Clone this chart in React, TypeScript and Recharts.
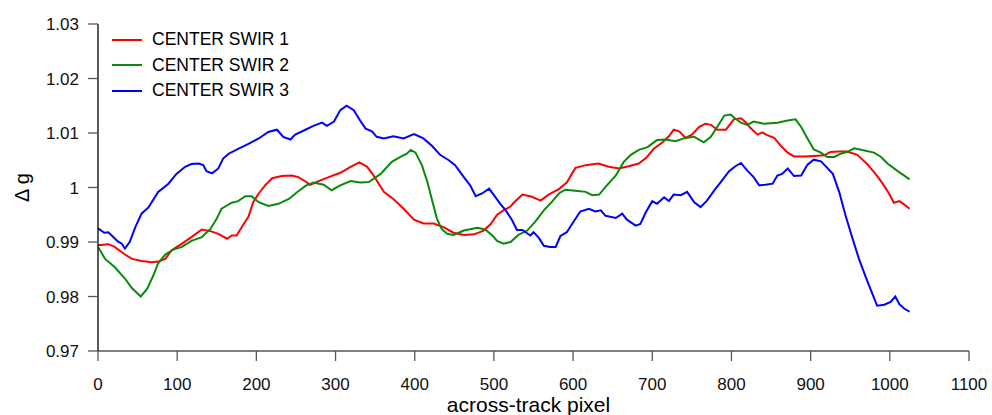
import React from "react";
import { LineChart, Line, XAxis, YAxis, Label } from "recharts";

// ---------- data ----------
const redX = [0, 13, 21, 34, 43, 55, 68, 76, 85, 93, 106, 118, 131, 142, 152, 163, 169, 175, 184, 190, 196, 203, 211, 220, 232, 245, 253, 262, 268, 281, 293, 306, 319, 330, 340, 348, 361, 373, 386, 399, 411, 424, 437, 449, 462, 475, 487, 496, 504, 512, 521, 525, 536, 548, 559, 569, 582, 592, 603, 616, 632, 645, 658, 670, 683, 692, 702, 713, 721, 727, 734, 742, 750, 759, 767, 774, 782, 793, 803, 812, 818, 824, 833, 839, 845, 854, 862, 871, 879, 892, 904, 917, 925, 936, 946, 959, 972, 982, 991, 999, 1005, 1012, 1018, 1025];
const redY = [0.9894, 0.9896, 0.9891, 0.9877, 0.9869, 0.9865, 0.9863, 0.9864, 0.9869, 0.9885, 0.9897, 0.9909, 0.9923, 0.992, 0.9915, 0.9906, 0.9912, 0.9912, 0.9933, 0.9946, 0.9973, 0.9989, 1.0004, 1.0017, 1.0021, 1.0022, 1.0019, 1.0011, 1.0005, 1.0013, 1.002, 1.0027, 1.0038, 1.0046, 1.0038, 1.0022, 0.9992, 0.9979, 0.9961, 0.9941, 0.9934, 0.9934, 0.9927, 0.9917, 0.9913, 0.9914, 0.9921, 0.9933, 0.995, 0.9958, 0.9965, 0.9972, 0.9987, 0.9983, 0.9976, 0.9987, 0.9997, 1.0009, 1.0036, 1.0041, 1.0044, 1.0038, 1.0035, 1.0039, 1.0044, 1.0054, 1.0071, 1.0083, 1.0094, 1.0106, 1.0103, 1.0091, 1.0097, 1.0111, 1.0117, 1.0115, 1.0106, 1.0106, 1.0125, 1.0127, 1.012, 1.0109, 1.0097, 1.0101, 1.0096, 1.0091, 1.0077, 1.0064, 1.0057, 1.0057, 1.0058, 1.0059, 1.0065, 1.0066, 1.0066, 1.006, 1.0042, 1.0025, 1.0007, 0.9989, 0.9972, 0.9975, 0.9969, 0.9961];

const greenX = [0, 9, 21, 34, 43, 54, 62, 70, 76, 85, 95, 106, 118, 131, 142, 150, 156, 169, 177, 186, 194, 203, 215, 228, 241, 253, 262, 272, 285, 295, 306, 319, 331, 342, 357, 371, 382, 390, 395, 401, 409, 416, 422, 428, 434, 441, 449, 462, 479, 489, 498, 504, 512, 521, 531, 542, 552, 563, 574, 582, 590, 603, 616, 624, 633, 641, 654, 664, 673, 683, 694, 706, 717, 729, 742, 753, 765, 774, 782, 791, 799, 805, 812, 820, 828, 841, 858, 871, 881, 888, 896, 904, 913, 921, 930, 938, 947, 955, 968, 980, 989, 997, 1010, 1025];
const greenY = [0.9891, 0.9869, 0.9854, 0.9833, 0.9815, 0.98, 0.9814, 0.9839, 0.9861, 0.9877, 0.9886, 0.9891, 0.9902, 0.9909, 0.9924, 0.9943, 0.9961, 0.9972, 0.9975, 0.9984, 0.9984, 0.9973, 0.9966, 0.997, 0.9979, 0.9993, 1.0003, 1.0009, 1.0005, 0.9995, 1.0004, 1.0012, 1.0009, 1.001, 1.0025, 1.0047, 1.0056, 1.0062, 1.0069, 1.0064, 1.0041, 1.001, 0.9976, 0.9943, 0.9924, 0.9915, 0.9913, 0.9921, 0.9926, 0.9923, 0.9912, 0.9902, 0.9897, 0.99, 0.9913, 0.9921, 0.9937, 0.9958, 0.9975, 0.9989, 0.9996, 0.9994, 0.9992, 0.9986, 0.9987, 1.0001, 1.0022, 1.0047, 1.006, 1.0069, 1.0074, 1.0087, 1.0088, 1.0085, 1.0091, 1.0093, 1.0083, 1.0093, 1.0111, 1.0132, 1.0134, 1.0126, 1.0119, 1.0115, 1.0121, 1.0117, 1.0119, 1.0123, 1.0125, 1.0111, 1.009, 1.007, 1.0064, 1.0056, 1.0056, 1.0062, 1.0066, 1.0072, 1.0068, 1.0064, 1.0056, 1.0044, 1.003, 1.0015];

const blueX = [0, 8, 13, 18, 25, 30, 34, 40, 47, 55, 64, 76, 89, 99, 110, 118, 127, 133, 137, 144, 152, 158, 165, 177, 190, 203, 215, 226, 234, 243, 249, 262, 272, 283, 289, 298, 306, 314, 323, 331, 338, 346, 352, 361, 373, 386, 399, 411, 422, 432, 443, 451, 462, 470, 477, 485, 494, 500, 508, 515, 523, 529, 536, 546, 550, 557, 563, 571, 578, 584, 592, 601, 609, 620, 628, 635, 641, 654, 662, 668, 679, 685, 692, 700, 706, 715, 721, 727, 736, 744, 753, 761, 769, 780, 786, 797, 805, 812, 820, 828, 835, 843, 852, 858, 864, 871, 879, 888, 896, 904, 913, 921, 928, 936, 944, 953, 961, 970, 978, 984, 993, 1001, 1007, 1012, 1018, 1025];
const blueY = [0.9925, 0.9917, 0.9918, 0.9911, 0.9901, 0.9897, 0.9888, 0.99, 0.9927, 0.9952, 0.9964, 0.9992, 1.0007, 1.0025, 1.0038, 1.0043, 1.0044, 1.0041, 1.003, 1.0026, 1.0035, 1.0053, 1.0062, 1.0071, 1.008, 1.009, 1.0102, 1.0106, 1.0093, 1.0088, 1.0097, 1.0106, 1.0113, 1.0119, 1.0113, 1.0121, 1.0142, 1.015, 1.0142, 1.0123, 1.0108, 1.0103, 1.0093, 1.009, 1.0094, 1.009, 1.0098, 1.009, 1.0076, 1.006, 1.005, 1.0041, 1.0019, 1.0004, 0.9984, 0.9989, 0.9998, 0.9986, 0.997, 0.9958, 0.994, 0.9922, 0.9922, 0.9912, 0.9918, 0.9907, 0.9893, 0.9891, 0.9891, 0.9911, 0.9918, 0.9938, 0.9956, 0.9961, 0.9956, 0.9958, 0.9948, 0.9944, 0.9952, 0.9941, 0.993, 0.9933, 0.9955, 0.9975, 0.997, 0.9982, 0.9975, 0.9987, 0.9986, 0.9992, 0.9973, 0.9964, 0.9976, 0.9998, 1.0009, 1.003, 1.0039, 1.0045, 1.0031, 1.0019, 1.0004, 1.0005, 1.0007, 1.0022, 1.0025, 1.0035, 1.0021, 1.0022, 1.0042, 1.0051, 1.0048, 1.0036, 1.0025, 0.9992, 0.9949, 0.9906, 0.9869, 0.9834, 0.9805, 0.9783, 0.9785, 0.979, 0.98, 0.9786, 0.9778, 0.9772];

const seriesNames = ["CENTER SWIR 1", "CENTER SWIR 2", "CENTER SWIR 3"];
const seriesColors = ["#ff0000", "#0a8a0a", "#0000ff"];

const xTicks = [0, 100, 200, 300, 400, 500, 600, 700, 800, 900, 1000, 1100];
const yTicks = [0.97, 0.98, 0.99, 1.0, 1.01, 1.02, 1.03];

const xLabel = "across-track pixel";
const yLabel = "\u0394 g";

// ---------- helpers ----------
const toPoints = (xs: number[], ys: number[]) => xs.map((x, i) => ({ x, y: ys[i] }));
const series = [toPoints(redX, redY), toPoints(greenX, greenY), toPoints(blueX, blueY)];

const FONT = '"Liberation Sans", Arial, Helvetica, sans-serif';

const YLabel = (props: any) => {
  const vb = props.viewBox || {};
  const cx = 22;
  const cy = (vb.y ?? 0) + (vb.height ?? 0) / 2;
  return (
    <text
      x={cx}
      y={cy}
      transform={`rotate(-90 ${cx} ${cy})`}
      textAnchor="middle"
      dominantBaseline="central"
      fontFamily={FONT}
      fontSize={20}
      fill="#000"
    >
      {yLabel}
    </text>
  );
};

const LegendBox = () => (
  <div
    style={{
      position: "absolute",
      left: 112,
      top: 27,
      fontFamily: FONT,
      fontSize: 17.5,
      color: "#000",
      pointerEvents: "none",
    }}
  >
    {seriesNames.map((n, i) => (
      <div key={n} style={{ display: "flex", alignItems: "center", height: 25.5 }}>
        <svg width={30} height={4} style={{ display: "block", marginRight: 10 }}>
          <line x1={0} y1={2} x2={30} y2={2} stroke={seriesColors[i]} strokeWidth={2} />
        </svg>
        <span style={{ lineHeight: "25.5px", whiteSpace: "nowrap" }}>{n}</span>
      </div>
    ))}
  </div>
);

const fmtY = (v: number) => String(Number(v.toFixed(2)));

export default function App() {
  return (
    <div style={{ position: "absolute", left: 0, top: 0, width: 992, height: 415, background: "#fff" }}>
      <LineChart width={992} height={415} margin={{ top: 24, right: 23, bottom: 0, left: 0 }}>
        <XAxis
          type="number"
          dataKey="x"
          domain={[0, 1100]}
          ticks={xTicks}
          allowDataOverflow
          height={64}
          tickSize={10}
          tickMargin={17}
          axisLine={{ stroke: "#555", strokeWidth: 1.3 }}
          tickLine={{ stroke: "#555", strokeWidth: 1.3 }}
          tick={{ fill: "#111", fontSize: 17, fontFamily: FONT }}
          interval={0}
        >
          <Label
            value={xLabel}
            position="insideBottom"
            offset={3}
            dx={-5}
            style={{ fontFamily: FONT, fontSize: 21, fill: "#000" }}
          />
        </XAxis>
        <YAxis
          type="number"
          domain={[0.97, 1.03]}
          ticks={yTicks}
          allowDataOverflow
          width={98}
          tickSize={10}
          tickMargin={9}
          tickFormatter={fmtY}
          axisLine={{ stroke: "#000", strokeWidth: 1.3 }}
          tickLine={{ stroke: "#555", strokeWidth: 1.3 }}
          tick={{ fill: "#111", fontSize: 17, fontFamily: FONT }}
          interval={0}
        >
          <Label content={<YLabel />} />
        </YAxis>
        {series.map((d, i) => (
          <Line
            key={seriesNames[i]}
            data={d}
            dataKey="y"
            name={seriesNames[i]}
            type="linear"
            stroke={seriesColors[i]}
            strokeWidth={2}
            dot={false}
            activeDot={false}
            isAnimationActive={false}
          />
        ))}
      </LineChart>
      <LegendBox />
    </div>
  );
}
